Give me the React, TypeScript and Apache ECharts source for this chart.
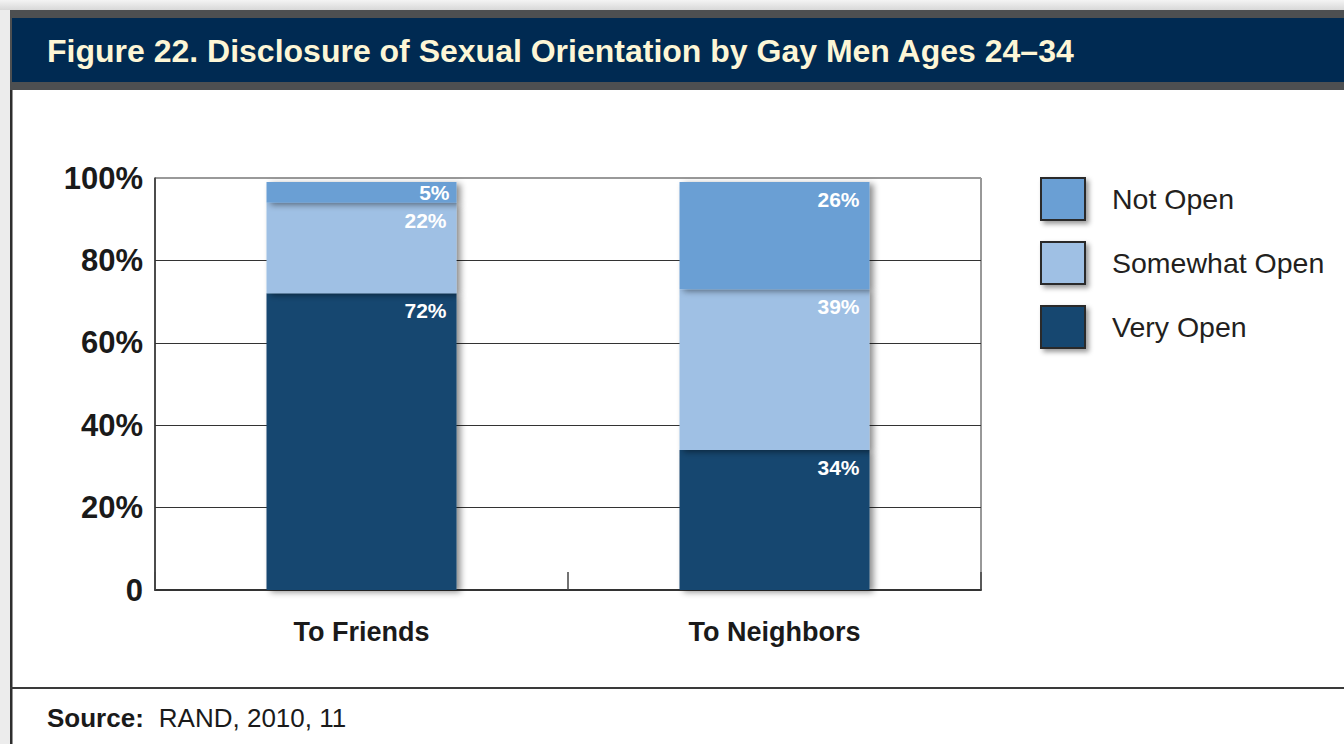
import React, { useEffect, useRef } from "react";
import * as echarts from "echarts";

const categories = ["To Friends", "To Neighbors"];
const seriesNames = ["Very Open", "Somewhat Open", "Not Open"];
const veryOpen = [72, 34];
const somewhatOpen = [22, 39];
const notOpen = [5, 26];
const yTickLabels = ["0", "20%", "40%", "60%", "80%", "100%"];
const legendOrder = ["Not Open", "Somewhat Open", "Very Open"];
const colors = ["#134670", "#9fc0e4", "#6a9fd4"];
const titleText = "Figure 22. Disclosure of Sexual Orientation by Gay Men Ages 24\u201334";

const FONT = "'Liberation Sans', Arial, Helvetica, sans-serif";

export default function App() {
  const ref = useRef<HTMLDivElement>(null);
  useEffect(() => {
    document.body.style.margin = "0";
    const chart = echarts.init(ref.current!, null, { renderer: "svg" });
    const values = [veryOpen, somewhatOpen, notOpen];
    const series = seriesNames.map((name, i) => ({
      name,
      type: "bar",
      stack: "total",
      barWidth: "46%",
      itemStyle: {
        color: colors[i],
        shadowBlur: 6,
        shadowColor: "rgba(0,0,0,0.45)",
        shadowOffsetX: 4,
        shadowOffsetY: 2,
      },
      label: {
        show: true,
        position: "insideTopRight",
        distance: 7,
        offset: [-3, 0],
        color: "#ffffff",
        fontWeight: "bold",
        fontSize: 21,
        fontFamily: FONT,
        formatter: "{c}%",
      },
      data: values[i].map((v) =>
        v < 10 ? { value: v, label: { distance: 0, offset: [-7, 0] } } : v
      ),
    }));

    chart.setOption({
      animation: false,
      backgroundColor: "#ffffff",
      textStyle: { fontFamily: FONT },
      grid: {
        left: 155,
        right: 363,
        top: 178,
        bottom: 154,
        show: true,
        borderColor: "#333",
        borderWidth: 1,
      },
      xAxis: {
        type: "category",
        data: categories,
        axisLine: { show: true, lineStyle: { color: "#333", width: 2 } },
        axisTick: { show: true, inside: true, length: 18, lineStyle: { color: "#444", width: 1.5 } },
        axisLabel: {
          margin: 28,
          fontSize: 27,
          fontWeight: "bold",
          color: "#1a1a1a",
          fontFamily: FONT,
        },
      },
      yAxis: {
        type: "value",
        min: 0,
        max: 100,
        interval: 20,
        axisLine: { show: true, lineStyle: { color: "#333", width: 1.5 } },
        axisTick: { show: false },
        splitLine: {
          show: true,
          lineStyle: { color: ["#333", "#333", "#333", "#333", "#333", "#999"], width: 1 },
        },
        axisLabel: {
          margin: 12,
          fontSize: 31,
          fontWeight: "bold",
          color: "#1a1a1a",
          fontFamily: FONT,
          formatter: (v: number) => yTickLabels[Math.round(v / 20)],
        },
      },
      legend: {
        data: legendOrder,
        orient: "vertical",
        left: 1035,
        top: 172,
        itemWidth: 44,
        itemHeight: 42,
        itemGap: 20,
        icon: "rect",
        itemStyle: {
          borderColor: "#2a2a2a",
          borderWidth: 2,
          shadowBlur: 5,
          shadowColor: "rgba(0,0,0,0.4)",
          shadowOffsetX: 3,
          shadowOffsetY: 3,
        },
        textStyle: {
          fontSize: 28.5,
          color: "#231f20",
          fontFamily: FONT,
          padding: [6, 0, 0, 22],
        },
      },
      series,
      graphic: [
        {
          type: "rect",
          shape: { x: 0, y: 0, width: 1344, height: 10 },
          style: {
            fill: new echarts.graphic.LinearGradient(0, 0, 0, 1, [
              { offset: 0, color: "#f4f4f4" },
              { offset: 1, color: "#d8d8d8" },
            ]),
          },
          silent: true,
        },
        {
          type: "rect",
          shape: { x: 0, y: 10, width: 10, height: 734 },
          style: { fill: "#ececec" },
          silent: true,
        },
        {
          type: "rect",
          shape: { x: 10, y: 10, width: 1334, height: 80 },
          style: { fill: "#4d4f51" },
          silent: true,
        },
        {
          type: "rect",
          shape: { x: 12, y: 18, width: 1332, height: 64 },
          style: { fill: "#002a52" },
          silent: true,
        },
        {
          type: "text",
          x: 47,
          y: 51,
          style: {
            text: titleText,
            fill: "#fdf6d6",
            font: `bold 32px ${FONT}`,
            textVerticalAlign: "middle",
          },
          silent: true,
        },
        {
          type: "rect",
          shape: { x: 10, y: 90, width: 2.5, height: 654 },
          style: { fill: "#2e2e2e" },
          silent: true,
        },
        {
          type: "rect",
          shape: { x: 10, y: 687, width: 1334, height: 2 },
          style: { fill: "#3a3a3a" },
          silent: true,
        },
        {
          type: "text",
          x: 47,
          y: 718,
          style: {
            text: "{b|Source:}{r|RAND, 2010, 11}",
            rich: {
              b: { font: `bold 26px ${FONT}`, fill: "#1a1a1a", padding: [0, 15, 0, 0] },
              r: { font: `26px ${FONT}`, fill: "#1a1a1a" },
            },
            textVerticalAlign: "middle",
          },
          silent: true,
        },
      ],
    });
    return () => chart.dispose();
  }, []);
  return <div ref={ref} style={{ width: 1344, height: 744 }} />;
}
